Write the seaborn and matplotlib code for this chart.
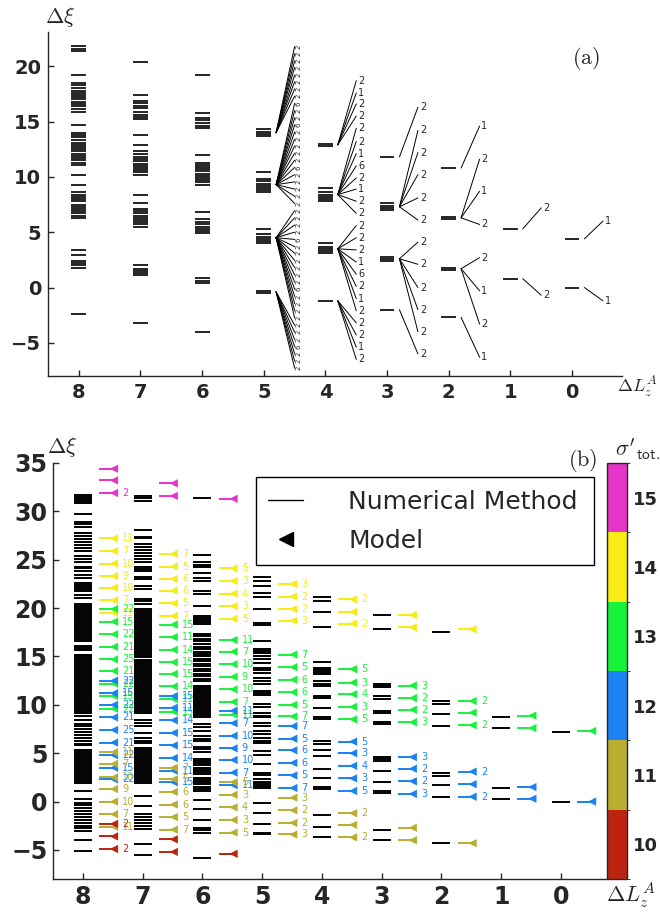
import matplotlib
matplotlib.use("Agg")
import matplotlib.pyplot as plt
from matplotlib.colors import ListedColormap, BoundaryNorm
from matplotlib.cm import ScalarMappable
from matplotlib.lines import Line2D
import pandas as pd
import seaborn as sns

# ---------------- panel (a): numerical levels per Delta L_z^A ----------------
a_lvl8 = [21.8, 21.6, 21.4, 19.2, 18.5, 18.3, 18.0, 17.8, 17.6, 17.4, 17.2, 17.0, 16.8, 16.6, 16.4, 16.1,
          15.9, 14.7, 14.0, 13.8, 13.6, 13.3, 13.1, 12.9, 12.7, 12.5, 12.3, 12.1, 11.9, 11.7, 11.5, 11.3,
          11.1, 10.2, 9.3, 8.6, 8.4, 8.2, 8.0, 7.8, 7.5, 7.3, 7.1, 6.9, 6.7, 6.5, 6.3, 3.4, 2.9, 2.4, 2.2,
          2.0, 1.8, -2.4]
a_lvl7 = [20.4, 17.4, 16.9, 16.7, 16.4, 16.2, 15.9, 15.6, 15.4, 15.2, 13.8, 12.9, 12.3, 12.1, 11.8, 11.6,
          11.4, 11.2, 11.0, 10.8, 10.6, 10.4, 10.2, 8.4, 7.6, 7.1, 6.9, 6.7, 6.5, 6.3, 6.1, 5.9, 5.7, 5.5,
          2.0, 1.7, 1.5, 1.3, 1.1, -3.2]
a_lvl6 = [19.2, 15.8, 15.3, 15.1, 14.9, 14.6, 14.4, 12.0, 11.3, 11.1, 10.9, 10.7, 10.5, 10.3, 10.1, 9.9,
          9.7, 9.5, 9.3, 6.8, 6.2, 5.9, 5.7, 5.5, 5.3, 5.1, 4.9, 0.9, 0.6, 0.4, -4.0]
a_lvl5 = [14.3, 14.1, 13.9, 13.7, 10.4, 9.8, 9.6, 9.4, 9.2, 9.0, 8.8, 8.6, 5.3, 4.8, 4.6, 4.4, 4.2, 4.0,
          -0.3, -0.5]
a_lvl4 = [13.0, 12.8, 9.0, 8.6, 8.4, 8.2, 8.0, 7.8, 4.0, 3.7, 3.5, 3.3, 3.1, -1.2]
a_lvl3 = [11.8, 7.6, 7.4, 7.2, 7.0, 2.8, 2.6, 2.4, -2.0]
a_lvl2 = [10.8, 6.4, 6.2, 1.8, 1.6, -2.7]
a_lvl1 = [5.3, 0.8]
a_lvl0 = [4.4, 0.0]

# fans: source level, number of branches, branch end positions and degeneracy labels
a_fan5_src = [14.0, 9.3, 4.5, -0.4]
a_fan5_cnt = [8, 15, 16, 7]
a_fan5_y = [21.8, 21.15, 20.5, 19.9, 19.2, 18.6, 17.95, 17.3, 16.65, 16.0, 15.35, 14.7, 14.05, 13.4,
            12.8, 12.15, 11.5, 10.85, 10.2, 9.55, 8.9, 8.25, 7.6, 6.95, 6.3, 5.65, 5.0, 4.35, 3.7, 3.1,
            2.45, 1.8, 1.15, 0.5, -0.15, -0.8, -1.45, -2.1, -2.75, -3.4, -4.05, -4.7, -5.35, -6.0,
            -6.65, -7.3]
a_fan5_lab = "2222222262262222262222222226222222622222226222"

a_fan4_src = [12.9, 8.4, 3.5, -1.2]
a_fan4_cnt = [4, 8, 8, 4]
a_fan4_y = [18.7, 17.6, 16.6, 15.5, 14.4, 13.2, 12.1, 11.0, 9.9, 8.9, 7.8, 6.7, 5.6, 4.5, 3.4, 2.3,
            1.2, 0.1, -1.0, -2.1, -3.2, -4.3, -5.4, -6.5]
a_fan4_lab = "212222162122222162122212"

a_fan3_src = [11.8, 7.3, 2.6, -2.0]
a_fan3_cnt = [1, 5, 5, 1]
a_fan3_y = [16.3, 14.2, 12.2, 10.2, 8.1, 6.1, 4.1, 2.1, 0.0, -2.0, -4.0, -6.0]
a_fan3_lab = "222222222222"

a_fan2_src = [10.8, 6.3, 1.7, -2.7]
a_fan2_cnt = [1, 3, 3, 1]
a_fan2_y = [14.6, 11.6, 8.7, 5.7, 2.7, -0.3, -3.3, -6.3]
a_fan2_lab = "12122121"

a_fan1_src = [5.3, 0.8]
a_fan1_cnt = [1, 1]
a_fan1_y = [7.2, -0.7]
a_fan1_lab = "22"

a_fan0_src = [4.4, 0.0]
a_fan0_cnt = [1, 1]
a_fan0_y = [6.0, -1.2]
a_fan0_lab = "11"

# ---------------- panel (b): numerical levels ----------------
b_lvl8 = [31.7, 31.5, 31.3, 31.1, 30.9, 29.7, 28.9, 28.7, 28.4, 27.8, 27.5, 27.1, 26.8, 26.5, 26.2,
          25.9, 25.4, 25.1, 24.8, 24.3, 24.1, 23.8, 23.4, 23.1, 22.6, 22.4, 22.2, 22.0, 21.8, 21.4,
          21.0, 20.4, 20.2, 20.0, 19.8, 19.6, 19.4, 19.2, 19.0, 18.8, 18.6, 18.4, 18.2, 18.0, 17.8,
          17.6, 17.4, 17.2, 17.0, 16.8, 16.6, 16.1, 15.9, 15.7, 15.2, 15.0, 14.8, 14.6, 14.4, 14.2,
          14.0, 13.8, 13.6, 13.4, 13.2, 13.0, 12.8, 12.6, 12.4, 12.2, 12.0, 11.8, 11.6, 11.4, 11.2,
          11.0, 10.8, 10.6, 10.4, 10.2, 10.0, 9.8, 9.6, 9.4, 9.2, 8.8, 8.4, 8.0, 7.8, 7.5, 7.2, 6.9,
          6.6, 6.3, 6.0, 5.8, 5.3, 5.1, 4.9, 4.7, 4.5, 4.3, 4.1, 3.9, 3.7, 3.5, 3.3, 3.1, 2.9, 2.7,
          2.5, 2.3, 2.1, 1.9, 1.1, 0.3, -0.1, -0.4, -0.7, -1.0, -1.3, -1.6, -1.9, -2.2, -2.5, -2.7,
          -3.0, -4.0, -5.1]
b_lvl7 = [31.6, 31.4, 31.1, 28.1, 27.4, 27.2, 26.6, 26.3, 26.0, 25.7, 25.4, 25.1, 24.8, 24.3, 24.0,
          23.8, 23.2, 23.0, 22.3, 22.0, 20.9, 20.7, 20.4, 19.9, 19.7, 19.5, 19.3, 19.1, 18.9, 18.7,
          18.5, 18.3, 18.1, 17.9, 17.7, 17.5, 17.3, 17.1, 16.9, 16.7, 16.5, 16.3, 16.1, 15.9, 15.7,
          15.5, 15.3, 15.1, 14.9, 14.6, 14.4, 14.2, 14.0, 13.8, 13.6, 13.4, 13.2, 13.0, 12.8, 12.6,
          12.4, 12.2, 12.0, 11.8, 11.6, 11.4, 11.2, 11.0, 10.8, 10.6, 10.4, 10.2, 10.0, 9.8, 9.6, 9.4,
          9.2, 8.4, 8.1, 7.8, 7.1, 6.6, 6.3, 6.1, 5.5, 5.3, 5.1, 4.9, 4.7, 4.5, 4.3, 4.1, 3.9, 3.7,
          3.5, 3.3, 3.1, 2.9, 2.7, 2.5, 2.3, 2.1, 1.9, 0.6, -0.5, -1.3, -1.6, -1.9, -2.2, -2.5, -2.8,
          -4.4, -5.5]
b_lvl6 = [31.4, 25.5, 24.8, 24.5, 24.3, 23.6, 23.1, 22.8, 21.8, 21.5, 20.2, 19.2, 19.0, 18.8, 18.6,
          18.4, 17.3, 17.1, 16.8, 16.6, 16.3, 16.0, 15.8, 15.5, 15.3, 15.0, 14.7, 14.5, 14.2, 14.0,
          13.7, 13.5, 13.2, 13.0, 12.7, 12.5, 12.0, 11.8, 11.6, 11.4, 11.2, 11.0, 10.8, 10.6, 10.4,
          10.2, 10.0, 9.8, 9.6, 9.4, 9.2, 9.0, 8.7, 8.0, 7.7, 7.3, 6.8, 6.5, 6.3, 5.6, 5.4, 5.1, 4.4,
          4.2, 4.0, 3.8, 3.5, 3.3, 3.1, 2.9, 2.4, 2.2, 2.0, 1.8, 1.5, 1.3, 1.1, 0.2, -0.8, -1.9, -2.7,
          -2.9, -3.2, -5.8]
b_lvl5 = [23.2, 22.8, 22.3, 21.6, 21.1, 19.9, 18.5, 18.3, 16.6, 15.8, 15.6, 15.4, 15.1, 14.7, 14.3,
          13.8, 13.6, 13.3, 12.8, 12.5, 12.2, 11.4, 11.2, 11.0, 10.1, 9.8, 9.2, 8.9, 8.7, 8.1, 7.8,
          7.3, 7.0, 6.6, 6.3, 6.1, 5.2, 4.8, 3.9, 3.0, 2.7, 2.3, 2.0, 1.8, 1.6, 1.4, -0.1, -1.2, -2.3,
          -3.2, -3.4]
b_lvl4 = [21.2, 20.7, 19.6, 18.0, 14.4, 13.8, 13.6, 13.4, 13.2, 12.5, 12.2, 12.0, 10.9, 10.7, 9.7,
          8.7, 8.5, 6.3, 6.0, 5.3, 4.7, 3.4, 2.4, 1.5, 1.3, -1.4, -2.6, -3.7]
b_lvl3 = [19.3, 17.8, 12.2, 12.0, 11.8, 10.9, 10.6, 9.4, 9.2, 8.2, 8.0, 4.6, 4.4, 4.2, 3.2, 2.0, 1.1,
          0.9, -2.9, -4.0]
b_lvl2 = [17.5, 10.4, 10.1, 9.1, 7.8, 3.0, 2.6, 1.7, 0.5, -4.3]
b_lvl1 = [8.7, 7.6, 1.4, 0.3]
b_lvl0 = [7.2, 0.0]

# ---------------- panel (b): model levels (value, sigma'_tot, degeneracy label) ----------------
b_mod8_y = [34.4, 33.2, 31.9, 27.2, 25.9, 24.6, 23.3, 22.1, 20.8, 19.5, 19.9, 18.6, 17.3, 16.0, 14.7,
            13.5, 12.2, 10.9, 9.6, 12.5, 11.2, 10.0, 8.7, 7.4, 6.1, 4.8, 3.5, 2.3, 5.1, 3.9, 2.5, 1.3,
            0.0, -1.3, -2.6, -2.3, -3.6, -4.9]
b_mod8_s = [15, 15, 15, 14, 14, 14, 14, 14, 14, 14, 13, 13, 13, 13, 13, 13, 13, 13, 13, 12, 12, 12, 12,
            12, 12, 12, 12, 12, 11, 11, 11, 11, 11, 11, 11, 10, 10, 10]
b_mod8_lab = ["", "", "2", "11", "7", "10", "9", "10", "7", "11", "22", "15", "22", "21", "25", "21",
              "22", "15", "22", "22", "15", "22", "21", "25", "21", "22", "15", "22", "11", "7", "10",
              "9", "10", "7", "11", "2", "", "2"]

b_mod7_y = [32.9, 31.6, 25.6, 24.3, 23.0, 21.8, 20.5, 19.2, 18.3, 17.0, 15.7, 14.4, 13.2, 11.9, 10.6,
            9.3, 10.9, 9.7, 8.4, 7.1, 5.8, 4.5, 3.2, 2.0, 3.5, 2.3, 1.0, -0.3, -1.6, -2.9, -3.9, -5.2]
b_mod7_s = [15, 15, 14, 14, 14, 14, 14, 14, 13, 13, 13, 13, 13, 13, 13, 13, 12, 12, 12, 12, 12, 12, 12,
            12, 11, 11, 11, 11, 11, 11, 10, 10]
b_mod7_lab = ["", "", "7", "5", "6", "6", "5", "7", "15", "11", "14", "15", "15", "14", "11", "15", "15",
              "11", "14", "15", "15", "14", "11", "15", "7", "5", "6", "6", "5", "7", "", ""]

b_mod6_y = [31.3, 24.1, 22.8, 21.5, 20.2, 18.9, 16.7, 15.5, 14.2, 12.9, 11.6, 10.3, 9.0, 9.4, 8.1, 6.8,
            5.5, 4.3, 3.0, 1.7, 2.0, 0.7, -0.6, -1.9, -3.2, -5.4]
b_mod6_s = [15, 14, 14, 14, 14, 14, 13, 13, 13, 13, 13, 13, 13, 12, 12, 12, 12, 12, 12, 12, 11, 11, 11,
            11, 11, 10]
b_mod6_lab = ["", "5", "3", "4", "3", "5", "11", "7", "10", "9", "10", "7", "11", "11", "7", "10", "9",
              "10", "7", "11", "5", "3", "4", "3", "5", ""]

b_mod5_y = [22.5, 21.2, 19.9, 18.7, 15.2, 13.9, 12.6, 11.3, 10.0, 8.8, 7.8, 6.5, 5.3, 4.0, 2.7, 1.4,
            0.4, -0.9, -2.2, -3.4]
b_mod5_s = [14, 14, 14, 14, 13, 13, 13, 13, 13, 13, 12, 12, 12, 12, 12, 12, 11, 11, 11, 11]
b_mod5_lab = ["3", "2", "2", "3", "7", "5", "6", "6", "5", "7", "7", "5", "6", "6", "5", "7", "3", "2",
              "2", "3"]

b_mod4_y = [20.9, 19.6, 18.4, 13.7, 12.3, 11.1, 9.8, 8.5, 6.2, 5.0, 3.7, 2.4, 1.1, -1.2, -2.4, -3.7]
b_mod4_s = [14, 14, 14, 13, 13, 13, 13, 13, 12, 12, 12, 12, 12, 11, 11, 11]
b_mod4_lab = ["2", "", "2", "5", "3", "4", "3", "5", "5", "3", "4", "3", "5", "2", "", "2"]

b_mod3_y = [19.3, 18.0, 12.0, 10.7, 9.5, 8.2, 4.6, 3.4, 2.1, 0.8, -2.7, -4.0]
b_mod3_s = [14, 14, 13, 13, 13, 13, 12, 12, 12, 12, 11, 11]
b_mod3_lab = ["", "", "3", "2", "2", "3", "3", "2", "2", "3", "", ""]

b_mod2_y = [17.8, 10.4, 9.2, 7.9, 3.1, 1.8, 0.5, -4.3]
b_mod2_s = [14, 13, 13, 13, 12, 12, 12, 11]
b_mod2_lab = ["", "2", "", "2", "2", "", "2", ""]

b_mod1_y = [8.9, 7.6, 1.5, 0.3]
b_mod1_s = [13, 13, 12, 12]
b_mod1_lab = ["", "", "", ""]

b_mod0_y = [7.3, 0.0]
b_mod0_s = [13, 12]
b_mod0_lab = ["", ""]

sigma_ticks = [10, 11, 12, 13, 14, 15]
sigma_colors = ["#BC2410", "#B9AE2F", "#1A82F2", "#17F23B", "#F8EB16", "#E634C8"]
x_ticks = [8, 7, 6, 5, 4, 3, 2, 1, 0]

# ------------------------------------------------------------------------------
sns.set_style("ticks")
plt.rcParams["font.family"] = ["DejaVu Sans"]
plt.rcParams["mathtext.fontset"] = "cm"

palette = dict(zip(sigma_ticks, sigma_colors))

a_lvls = {8: a_lvl8, 7: a_lvl7, 6: a_lvl6, 5: a_lvl5, 4: a_lvl4, 3: a_lvl3, 2: a_lvl2, 1: a_lvl1, 0: a_lvl0}
a_fans = {5: (a_fan5_src, a_fan5_cnt, a_fan5_y, a_fan5_lab),
          4: (a_fan4_src, a_fan4_cnt, a_fan4_y, a_fan4_lab),
          3: (a_fan3_src, a_fan3_cnt, a_fan3_y, a_fan3_lab),
          2: (a_fan2_src, a_fan2_cnt, a_fan2_y, a_fan2_lab),
          1: (a_fan1_src, a_fan1_cnt, a_fan1_y, a_fan1_lab),
          0: (a_fan0_src, a_fan0_cnt, a_fan0_y, a_fan0_lab)}
b_lvls = {8: b_lvl8, 7: b_lvl7, 6: b_lvl6, 5: b_lvl5, 4: b_lvl4, 3: b_lvl3, 2: b_lvl2, 1: b_lvl1, 0: b_lvl0}
b_mods = {8: (b_mod8_y, b_mod8_s, b_mod8_lab), 7: (b_mod7_y, b_mod7_s, b_mod7_lab),
          6: (b_mod6_y, b_mod6_s, b_mod6_lab), 5: (b_mod5_y, b_mod5_s, b_mod5_lab),
          4: (b_mod4_y, b_mod4_s, b_mod4_lab), 3: (b_mod3_y, b_mod3_s, b_mod3_lab),
          2: (b_mod2_y, b_mod2_s, b_mod2_lab), 1: (b_mod1_y, b_mod1_s, b_mod1_lab),
          0: (b_mod0_y, b_mod0_s, b_mod0_lab)}

fig = plt.figure(figsize=(6.6, 9.15), dpi=100)
ax_a = fig.add_axes([48 / 660, 1 - 376 / 915, 574 / 660, 344 / 915])
ax_b = fig.add_axes([53 / 660, 1 - 879 / 915, 554 / 660, 416 / 915])
cax = fig.add_axes([607 / 660, 1 - 879 / 915, 20 / 660, 416 / 915])

# ---- panel (a)
for c, ys in a_lvls.items():
    ax_a.hlines(ys, c - 0.12, c + 0.12, color="black", lw=1.2)

for c, (src, cnt, ys, labs) in a_fans.items():
    k = 0
    for s, n in zip(src, cnt):
        for j in range(n):
            ax_a.plot([c - 0.2, c - 0.5], [s, ys[k]], color="black", lw=0.7)
            if c == 5:
                ax_a.text(c - 0.56, ys[k], labs[k], fontsize=5, rotation=90,
                          ha="center", va="center")
            else:
                ax_a.text(c - 0.53, ys[k], labs[k], fontsize=7, ha="left", va="center")
            k += 1

ax_a.set_xlim(8.5, -0.81)
ax_a.set_ylim(-8, 23.1)
ax_a.set_xticks(x_ticks)
ax_a.set_yticks([-5, 0, 5, 10, 15, 20])
ax_a.tick_params(direction="in", length=4, width=1, labelsize=14, pad=5)
sns.despine(ax=ax_a)

# ---- panel (b)
rows = []
for c, ys in b_lvls.items():
    ax_b.hlines(ys, c - 0.15, c + 0.15, color="black", lw=1.4)

for c, (ys, ss, labs) in b_mods.items():
    cols = [palette[s] for s in ss]
    ax_b.hlines(ys, c - 0.27, c - 0.55, colors=cols, lw=1.4)
    for y, s, lab in zip(ys, ss, labs):
        rows.append({"x": c - 0.52, "y": y, "sig": s})
        if lab:
            ax_b.text(c - 0.66, y, lab, fontsize=7, color=palette[s], ha="left", va="center")

df_b = pd.DataFrame(rows)
sns.scatterplot(data=df_b, x="x", y="y", hue="sig", palette=palette, marker="<", s=36,
                linewidth=0, legend=False, ax=ax_b, zorder=3)
ax_b.set_xlabel("")
ax_b.set_ylabel("")
ax_b.set_xlim(8.5, -0.77)
ax_b.set_ylim(-8, 35)
ax_b.set_xticks(x_ticks)
ax_b.set_yticks([-5, 0, 5, 10, 15, 20, 25, 30, 35])
ax_b.tick_params(direction="in", length=4, width=1, labelsize=17, pad=4)
sns.despine(ax=ax_b)

for ax in (ax_a, ax_b):
    for lbl in ax.get_xticklabels() + ax.get_yticklabels():
        lbl.set_fontweight("bold")
    for sp in ax.spines.values():
        sp.set_linewidth(1.0)

handles = [Line2D([], [], color="black", lw=1.0),
           Line2D([], [], color="black", marker="<", ls="none", markersize=10)]
leg = ax_b.legend(handles, ["Numerical Method", "Model"], loc="upper left",
                  bbox_to_anchor=(0.366, 0.75, 0.611, 0.216), mode="expand", borderaxespad=0,
                  fontsize=18, frameon=True, fancybox=False, edgecolor="black",
                  framealpha=1, handlelength=1.4, handletextpad=1.8, borderpad=0.5,
                  labelspacing=0.6)
leg.get_frame().set_linewidth(1.0)

# ---- colorbar
cmap = ListedColormap(sigma_colors)
norm = BoundaryNorm([9.5, 10.5, 11.5, 12.5, 13.5, 14.5, 15.5], cmap.N)
cb = fig.colorbar(ScalarMappable(norm=norm, cmap=cmap), cax=cax, ticks=sigma_ticks)
cb.outline.set_linewidth(1.0)
cax.tick_params(direction="in", length=4, width=1, labelsize=13, pad=4)
for lbl in cax.get_yticklabels():
    lbl.set_fontweight("bold")

# ---- texts
fig.text(45 / 660, 1 - 17 / 915, r"$\Delta\xi$", fontsize=16, ha="left", va="center")
fig.text(586 / 660, 1 - 58 / 915, r"$\mathrm{(a)}$", fontsize=16, ha="center", va="center")
fig.text(617 / 660, 1 - 387 / 915, r"$\Delta L_z^A$", fontsize=13, ha="left", va="center")
fig.text(47 / 660, 1 - 447 / 915, r"$\Delta\xi$", fontsize=16, ha="left", va="center")
fig.text(583 / 660, 1 - 460 / 915, r"$\mathrm{(b)}$", fontsize=16, ha="center", va="center")
fig.text(638 / 660, 1 - 449 / 915, r"$\sigma'_{\mathsf{tot.}}$", fontsize=16, ha="center", va="center")
fig.text(606 / 660, 1 - 895 / 915, r"$\Delta L_z^A$", fontsize=16, ha="left", va="center")

fig.savefig("out.png", dpi=100)
